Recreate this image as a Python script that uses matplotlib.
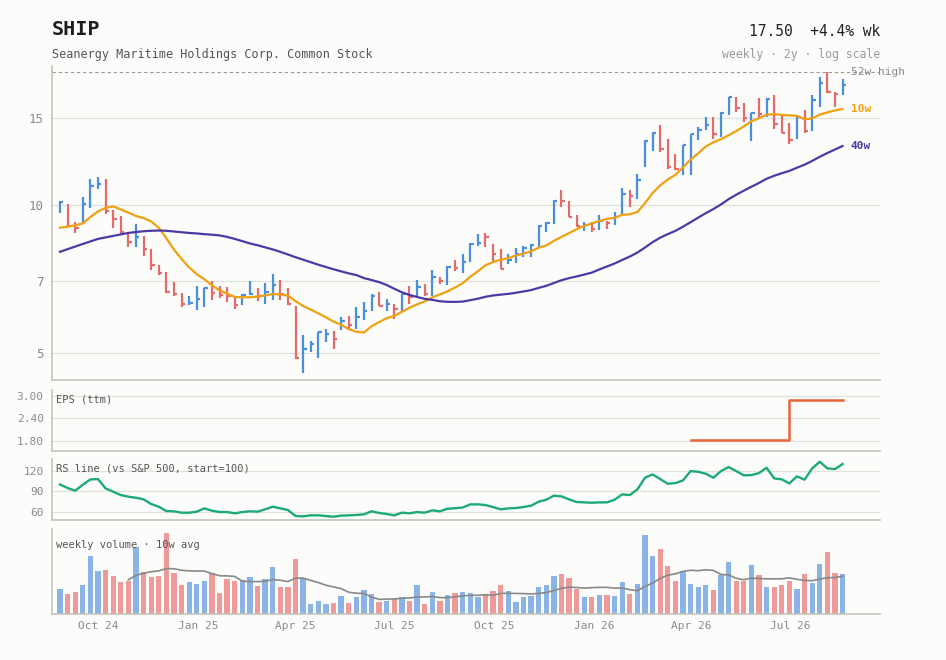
import matplotlib
matplotlib.use('Agg')
import matplotlib.pyplot as plt
from matplotlib.ticker import NullLocator, FixedLocator, FixedFormatter
import numpy as np
import pandas as pd

plt.rcParams['font.family'] = ['DejaVu Sans Mono']

ticker = 'SHIP'
company = 'Seanergy Maritime Holdings Corp. Common Stock'
first_week = '2024-08-27'

opens = [
    9.85, 10.00, 9.08, 9.20, 10.03, 10.93, 11.00, 9.74, 9.35, 8.79,
    8.42, 8.62, 8.10, 7.55, 7.27, 6.66, 6.59, 6.28, 6.32, 6.44,
    6.77, 6.62, 6.55, 6.50, 6.26, 6.56, 6.58, 6.52, 6.66, 6.87,
    6.60, 6.20, 4.88, 5.11, 5.21, 5.38, 5.46, 5.60, 5.82, 5.71,
    5.93, 6.12, 6.52, 6.24, 6.28, 6.16, 6.58, 6.55, 6.81, 6.58,
    7.13, 7.00, 7.47, 7.45, 7.70, 8.33, 8.70, 8.25, 7.95, 7.60,
    7.73, 7.95, 8.18, 8.28, 9.04, 9.18, 10.20, 10.17, 9.47, 9.07,
    9.12, 8.95, 9.29, 9.18, 9.60, 10.53, 10.43, 12.00, 13.50, 14.02,
    12.97, 11.91, 11.85, 13.22, 13.91, 14.20, 14.53, 13.91, 15.39, 16.54,
    15.74, 15.02, 15.35, 15.30, 16.44, 14.60, 14.02, 13.60, 15.07, 14.11,
    16.34, 17.66, 16.96, 16.76]
highs = [
    10.20, 10.05, 9.24, 10.37, 11.27, 11.38, 11.27, 9.77, 9.50, 8.83,
    9.15, 8.65, 8.13, 7.56, 7.32, 6.98, 6.62, 6.52, 6.85, 6.78,
    7.00, 6.83, 6.81, 6.52, 6.58, 7.00, 6.79, 6.94, 7.24, 7.04,
    6.77, 6.22, 5.45, 5.30, 5.52, 5.61, 5.54, 5.93, 5.95, 6.20,
    6.35, 6.60, 6.66, 6.44, 6.28, 6.60, 6.85, 7.04, 6.91, 7.36,
    7.15, 7.50, 7.73, 7.95, 8.36, 8.73, 8.76, 8.33, 8.13, 7.95,
    8.18, 8.26, 8.33, 9.10, 9.24, 10.24, 10.73, 10.17, 9.56, 9.24,
    9.21, 9.56, 9.29, 9.68, 10.83, 10.73, 11.56, 13.55, 14.07, 14.51,
    13.59, 12.69, 13.25, 13.94, 14.38, 15.11, 15.07, 15.44, 16.58, 16.58,
    16.08, 15.39, 16.46, 16.49, 16.69, 15.23, 14.69, 15.07, 15.58, 16.69,
    18.15, 18.60, 16.96, 17.98]
lows = [
    9.63, 9.04, 8.77, 9.18, 9.85, 10.76, 9.59, 8.97, 8.73, 8.23,
    8.21, 7.88, 7.38, 7.21, 6.62, 6.54, 6.20, 6.26, 6.12, 6.20,
    6.41, 6.47, 6.34, 6.14, 6.26, 6.56, 6.37, 6.28, 6.41, 6.41,
    6.26, 4.86, 4.56, 5.02, 4.88, 5.26, 5.11, 5.56, 5.56, 5.61,
    5.84, 6.10, 6.22, 6.10, 5.86, 6.10, 6.28, 6.52, 6.52, 6.52,
    6.91, 6.89, 7.33, 7.27, 7.66, 8.26, 8.21, 7.71, 7.40, 7.57,
    7.62, 7.85, 7.85, 8.21, 8.82, 9.15, 9.92, 9.44, 9.01, 8.87,
    8.79, 8.90, 8.95, 9.12, 9.53, 9.89, 10.30, 11.96, 12.85, 12.81,
    11.85, 11.78, 11.51, 11.51, 13.55, 14.20, 13.59, 13.72, 15.21, 15.44,
    14.74, 13.46, 15.00, 15.07, 14.24, 13.98, 13.30, 13.59, 14.02, 14.15,
    15.79, 16.85, 15.79, 16.74]
closes = [
    10.15, 9.08, 8.98, 10.03, 10.93, 11.00, 9.74, 9.35, 8.79, 8.42,
    8.62, 8.15, 7.55, 7.27, 6.66, 6.59, 6.28, 6.32, 6.44, 6.77,
    6.62, 6.55, 6.54, 6.26, 6.56, 6.58, 6.52, 6.66, 6.87, 6.60,
    6.30, 4.88, 5.11, 5.21, 5.51, 5.46, 5.34, 5.82, 5.71, 5.93,
    6.08, 6.52, 6.24, 6.28, 6.16, 6.58, 6.50, 6.81, 6.58, 7.13,
    7.00, 7.47, 7.45, 7.65, 8.33, 8.38, 8.60, 7.95, 7.42, 7.73,
    7.95, 8.18, 8.28, 9.04, 9.18, 10.20, 10.17, 9.47, 9.07, 9.12,
    8.95, 9.29, 9.18, 9.47, 10.53, 10.43, 11.24, 13.50, 14.02, 12.97,
    11.91, 11.85, 13.22, 13.91, 14.20, 14.53, 13.91, 15.39, 16.54, 15.74,
    15.02, 15.35, 15.30, 16.44, 14.60, 14.02, 13.55, 15.07, 14.11, 16.34,
    17.66, 16.96, 16.76, 17.50]

# moving averages before enough history is in the window
ma10_head = [8.99, 9.03, 9.09, 9.17, 9.45, 9.70, 9.86, 9.93, 9.79]
ma40_head = [
    8.03, 8.13, 8.23, 8.33, 8.43, 8.53, 8.59, 8.65, 8.71, 8.77,
    8.81, 8.84, 8.86, 8.87, 8.86, 8.83, 8.80, 8.77, 8.75, 8.72,
    8.70, 8.67, 8.61, 8.53, 8.44, 8.35, 8.28, 8.20, 8.12, 8.03,
    7.93, 7.83, 7.74, 7.65, 7.56, 7.48, 7.40, 7.33, 7.26]

volume = [
    633, 508, 558, 733, 1458, 1083, 1108, 958, 808, 833,
    1675, 1058, 933, 958, 2033, 1033, 733, 808, 758, 833,
    1033, 533, 883, 833, 858, 933, 708, 883, 1183, 683,
    683, 1383, 908, 258, 333, 258, 283, 458, 283, 433,
    608, 508, 308, 333, 383, 433, 333, 733, 258, 558,
    333, 483, 533, 558, 533, 433, 483, 583, 733, 583,
    308, 433, 458, 683, 733, 958, 1008, 908, 633, 433,
    433, 483, 483, 458, 808, 508, 758, 1983, 1458, 1633,
    1208, 833, 1083, 758, 683, 733, 608, 983, 1308, 833,
    833, 1233, 983, 683, 683, 733, 833, 633, 1008, 783,
    1258, 1558, 1033, 1008]

rs_line = [
    100.0, 94.8, 90.9, 99.6, 107.3, 107.8, 94.3, 89.5, 84.6, 82.2,
    80.7, 78.4, 71.6, 67.7, 61.4, 61.0, 59.0, 59.0, 60.5, 65.3,
    61.9, 60.0, 60.0, 58.1, 60.0, 61.0, 60.5, 63.9, 67.7, 65.3,
    62.9, 54.2, 53.7, 55.2, 55.2, 54.2, 53.2, 54.7, 55.2, 55.7,
    56.6, 61.0, 58.6, 57.1, 55.2, 59.0, 58.1, 60.0, 59.0, 62.4,
    61.0, 64.8, 65.5, 66.5, 71.1, 71.1, 70.1, 67.2, 63.9, 65.3,
    65.8, 67.2, 69.2, 75.0, 77.9, 83.7, 82.7, 78.4, 74.5, 74.0,
    73.5, 74.0, 74.0, 77.9, 85.6, 84.6, 92.9, 109.8, 114.6, 107.8,
    101.0, 102.0, 105.9, 119.4, 118.4, 115.5, 109.8, 119.4, 125.2, 119.4,
    113.2, 113.6, 116.5, 124.2, 108.8, 107.4, 101.5, 111.7, 106.9, 123.3,
    132.9, 123.3, 122.3, 129.6]

eps_ttm = [np.nan] * 83 + [1.81] * 13 + [2.88] * 8

month_ticks = ['2024-10-01', '2025-01-01', '2025-04-01', '2025-07-01',
               '2025-10-01', '2026-01-01', '2026-04-01', '2026-07-01']

BG = '#fcfcfa'
UP = '#4a8fde'
DOWN = '#e36b6b'
UP_VOL = '#8ab3e6'
DOWN_VOL = '#ef9a9a'
SPINE = '#c4c4bc'
GRID = '#e2e2dc'
TICKC = '#8a8a8a'

n = len(closes)
x = np.arange(n)
weeks = pd.date_range(first_week, periods=n, freq='7D')
up = np.array(closes) >= np.array(opens)
bar_cols = np.where(up, UP, DOWN)
vol_cols = np.where(up, UP_VOL, DOWN_VOL)

close_s = pd.Series(closes)
ma10 = close_s.rolling(10).mean().values
ma10[:len(ma10_head)] = ma10_head
ma40 = close_s.rolling(40).mean().values
ma40[:len(ma40_head)] = ma40_head
vol_avg = pd.Series(volume).rolling(10).mean()

tick_pos = [(pd.Timestamp(m) - weeks[0]).days / 7 for m in month_ticks]
tick_lab = [pd.Timestamp(m).strftime('%b %y') for m in month_ticks]

fig = plt.figure(figsize=(9.46, 6.6), dpi=100, facecolor=BG)
L, W = 0.055, 0.875
ax = fig.add_axes([L, 0.4242, W, 0.4758])
ax_eps = fig.add_axes([L, 0.3171, W, 0.092])
ax_rs = fig.add_axes([L, 0.2121, W, 0.092])
ax_vol = fig.add_axes([L, 0.0692, W, 0.1288])

for a in (ax, ax_eps, ax_rs, ax_vol):
    a.set_facecolor(BG)
    a.set_xlim(-1.05, 107.9)
    for s in ('top', 'right'):
        a.spines[s].set_visible(False)
    for s in ('left', 'bottom'):
        a.spines[s].set_color(SPINE)
        a.spines[s].set_linewidth(1.2)
    a.tick_params(length=0, labelsize=8, colors=TICKC, pad=6)
    a.set_xticks([])
    a.grid(axis='y', color=GRID, lw=0.9)
    a.set_axisbelow(True)

# price panel
ax.set_yscale('log')
ax.set_ylim(4.41, 19.14)
ax.yaxis.set_major_locator(FixedLocator([5, 7, 10, 15]))
ax.yaxis.set_major_formatter(FixedFormatter(['5', '7', '10', '15']))
ax.yaxis.set_minor_locator(NullLocator())
ax.tick_params(axis='y', labelsize=9)

ax.vlines(x, lows, highs, colors=bar_cols, lw=1.6)
ax.hlines(closes, x, x + 0.45, colors=bar_cols, lw=1.6)
ax.plot(x, ma10, color='#f0a010', lw=1.6)
ax.plot(x, ma40, color='#4b3aa6', lw=1.6)

hi52 = max(highs[-52:])
ax.axhline(hi52, color='#999999', lw=0.8, ls=(0, (3, 2.5)))
ax.annotate('52w high', (n - 1, hi52), xytext=(8, 0), textcoords='offset pixels',
            va='center', ha='left', fontsize=8, color='#8a8a8a', annotation_clip=False)
ax.annotate('10w', (n - 1, ma10[-1]), xytext=(8, 0), textcoords='offset pixels',
            va='center', ha='left', fontsize=8, color='#f0a010', fontweight='bold')
ax.annotate('40w', (n - 1, ma40[-1]), xytext=(8, 0), textcoords='offset pixels',
            va='center', ha='left', fontsize=8, color='#4b3aa6', fontweight='bold')

# header
fig.text(L, 0.955, ticker, fontsize=14.5, fontweight='bold', color='#1e1e1e', va='center')
fig.text(L, 0.918, company, fontsize=8.5, color='#555555', va='center')
chg = (closes[-1] / closes[-2] - 1) * 100
fig.text(L + W, 0.953, f'{closes[-1]:.2f}  {chg:+.1f}% wk', fontsize=10.5,
         color='#222222', ha='right', va='center')
fig.text(L + W, 0.918, 'weekly \u00b7 2y \u00b7 log scale', fontsize=8.3,
         color='#999999', ha='right', va='center')

# EPS panel
ax_eps.plot(x, eps_ttm, color='#e8643a', lw=1.8, drawstyle='steps-post')
ax_eps.set_ylim(1.53, 3.15)
ax_eps.set_yticks([1.8, 2.4, 3.0])
ax_eps.set_yticklabels(['1.80', '2.40', '3.00'])
ax_eps.text(0.005, 0.93, 'EPS (ttm)', transform=ax_eps.transAxes, fontsize=7.5,
            color='#555555', va='top', ha='left')

# RS panel
ax_rs.plot(x, rs_line, color='#1daa78', lw=1.7)
ax_rs.set_ylim(48.4, 136.5)
ax_rs.set_yticks([60, 90, 120])
ax_rs.text(0.005, 0.93, 'RS line (vs S&P 500, start=100)', transform=ax_rs.transAxes,
           fontsize=7.5, color='#555555', va='top', ha='left')

# volume panel
ax_vol.bar(x, volume, width=0.7, color=vol_cols)
ax_vol.plot(x, vol_avg, color='#888888', lw=1.2)
ax_vol.set_ylim(0, max(volume) * 85 / 81.3)
ax_vol.set_yticks([])
ax_vol.grid(False)
ax_vol.set_xticks(tick_pos)
ax_vol.set_xticklabels(tick_lab)
ax_vol.tick_params(axis='x', labelsize=8, pad=5)
ax_vol.text(0.005, 0.88, 'weekly volume \u00b7 10w avg', transform=ax_vol.transAxes,
            fontsize=7.5, color='#555555', va='top', ha='left')

fig.savefig('out.png', dpi=100, facecolor=BG)
